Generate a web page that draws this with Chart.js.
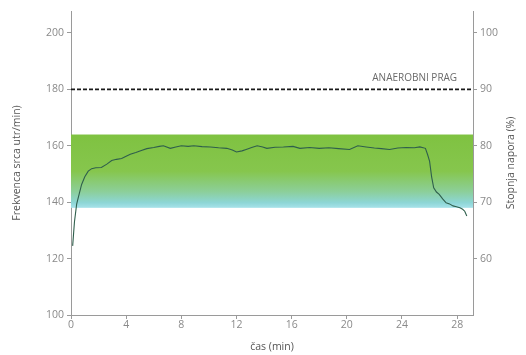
<!DOCTYPE html>
<html>
<head>
<meta charset="utf-8">
<script src="https://cdn.jsdelivr.net/npm/chart.js@4.4.1/dist/chart.umd.min.js"></script>
<style>
  html, body { margin: 0; padding: 0; background: #fff; }
  #wrap { width: 526px; height: 355px; position: relative; }
</style>
</head>
<body>
<div id="wrap"><canvas id="hr"></canvas></div>
<script>
// ---------------------------------------------------------
// DATA
// ---------------------------------------------------------
const timeMin = [0.12, 0.25, 0.41, 0.6, 0.77, 1.0, 1.25, 1.5, 1.8, 2.2, 2.6, 2.95, 3.3, 3.67, 4.0, 4.3, 4.7, 5.1, 5.5, 6.0, 6.4, 6.7, 7.2, 7.6, 8.0, 8.5, 8.9, 9.5, 10.1, 10.7, 11.3, 11.7, 12.0, 12.4, 12.7, 13.1, 13.5, 13.9, 14.2, 14.8, 15.4, 16.1, 16.6, 17.3, 18.0, 18.7, 19.4, 20.2, 20.8, 21.4, 22.0, 22.5, 23.1, 23.7, 24.3, 24.9, 25.3, 25.7, 25.85, 26.0, 26.15, 26.3, 26.5, 26.7, 26.95, 27.2, 27.45, 27.7, 27.95, 28.2, 28.4, 28.55, 28.7];
const heartRate = [124.5, 133, 139.3, 143, 146.3, 149, 151, 151.9, 152.2, 152.3, 153.5, 154.8, 155.2, 155.5, 156.3, 157, 157.6, 158.3, 159, 159.4, 159.8, 160, 159.1, 159.6, 160, 159.8, 160, 159.7, 159.6, 159.3, 159.1, 158.5, 157.8, 158.2, 158.7, 159.4, 160, 159.6, 159.1, 159.5, 159.6, 159.8, 159.1, 159.4, 159.1, 159.3, 159, 158.7, 160, 159.6, 159.2, 159, 158.7, 159.2, 159.4, 159.3, 159.6, 159.1, 157, 154.6, 149, 145.1, 143.6, 142.8, 141.2, 139.8, 139.4, 138.7, 138.4, 138, 137.5, 136.8, 135.1];

const xTicks = [0, 4, 8, 12, 16, 20, 24, 28];
const hrTicks = [100, 120, 140, 160, 180, 200];
const effortTicks = [60, 70, 80, 90, 100];

const zoneLow = 138;        // bpm, bottom of the shaded zone
const zoneHigh = 164;       // bpm, top of the shaded zone
const thresholdBpm = 180;   // anaerobni prag
const thresholdLabel = 'ANAEROBNI PRAG';
const rightTitle = 'Stopnja napora (%)';

const X_MAX = 29.15;
const TEXT = '#8a8a8a';
const AXIS = '#9a9a9a';
const FONT = "'Open Sans', 'DejaVu Sans', sans-serif";

// ---------------------------------------------------------
// PLUGINS
// ---------------------------------------------------------
const zonePlugin = {
    id: 'zone',
    beforeDatasetsDraw(chart) {
        const { ctx, scales: { x, y } } = chart;
        const left = x.getPixelForValue(0);
        const right = x.getPixelForValue(X_MAX);
        const top = y.getPixelForValue(zoneHigh);
        const bottom = y.getPixelForValue(zoneLow);
        const grad = ctx.createLinearGradient(0, top, 0, bottom);
        grad.addColorStop(0, '#7fc241');
        grad.addColorStop(0.5, '#86c64d');
        grad.addColorStop(0.78, '#8ccf9a');
        grad.addColorStop(0.93, '#8dd6d6');
        grad.addColorStop(1, '#a7e2ea');
        ctx.save();
        ctx.fillStyle = grad;
        ctx.fillRect(left, top, right - left, bottom - top);
        ctx.restore();
    },
    afterDatasetsDraw(chart) {
        const { ctx, scales: { x, y, y2 } } = chart;
        ctx.save();
        ctx.font = "10px " + FONT;
        ctx.fillStyle = '#6a6a6a';
        ctx.textAlign = 'right';
        ctx.textBaseline = 'bottom';
        ctx.fillText(thresholdLabel, x.getPixelForValue(28.0), y.getPixelForValue(thresholdBpm) - 6);

        // right axis title, reading bottom-to-top like the left one
        ctx.font = "10.5px " + FONT;
        ctx.fillStyle = '#555';
        ctx.textAlign = 'center';
        ctx.textBaseline = 'middle';
        ctx.translate(511, (y2.top + y2.bottom) / 2);
        ctx.rotate(-Math.PI / 2);
        ctx.fillText(rightTitle, 0, 0);
        ctx.restore();
    }
};

// ---------------------------------------------------------
// CHART
// ---------------------------------------------------------
const tickFont = { family: FONT, size: 10.5 };
const titleFont = { family: FONT, size: 10.5 };
const axisGrid = { display: true, drawOnChartArea: false, drawTicks: true, tickLength: 4, color: AXIS };

new Chart(document.getElementById('hr'), {
    type: 'line',
    data: {
        datasets: [
            {
                data: timeMin.map((t, i) => ({ x: t, y: heartRate[i] })),
                borderColor: '#2f5f4c',
                borderWidth: 1.1,
                pointRadius: 0,
                tension: 0,
                yAxisID: 'y'
            },
            {
                data: [{ x: 0, y: thresholdBpm }, { x: X_MAX, y: thresholdBpm }],
                borderColor: '#1a1a1a',
                borderWidth: 1.7,
                borderDash: [4, 2],
                pointRadius: 0,
                yAxisID: 'y'
            }
        ]
    },
    plugins: [zonePlugin],
    options: {
        responsive: true,
        maintainAspectRatio: false,
        animation: false,
        layout: { padding: { top: 11, right: 0, left: 0, bottom: 0 } },
        plugins: { legend: { display: false }, tooltip: { enabled: false } },
        scales: {
            x: {
                type: 'linear',
                min: 0,
                max: X_MAX,
                afterBuildTicks: s => { s.ticks = xTicks.map(v => ({ value: v })); },
                afterFit: s => { s.height = 40; },
                grid: axisGrid,
                border: { display: true, color: AXIS, width: 1 },
                ticks: { color: TEXT, font: tickFont, padding: 0, maxRotation: 0 },
                title: { display: true, text: 'čas (min)', color: '#555', font: titleFont, padding: { top: 0, bottom: 2 } }
            },
            y: {
                position: 'left',
                min: 100,
                max: 207.8,
                afterBuildTicks: s => { s.ticks = hrTicks.map(v => ({ value: v })); },
                afterFit: s => { s.width = 71; },
                grid: axisGrid,
                border: { display: true, color: AXIS, width: 1 },
                ticks: { color: TEXT, font: tickFont, padding: 3 },
                title: { display: true, text: 'Frekvenca srca utr/min)', color: '#555', font: titleFont, padding: { top: 11, bottom: 0 } }
            },
            y2: {
                position: 'right',
                min: 50,
                max: 103.9,
                afterBuildTicks: s => { s.ticks = effortTicks.map(v => ({ value: v })); },
                afterFit: s => { s.width = 53; },
                grid: axisGrid,
                border: { display: true, color: AXIS, width: 1 },
                ticks: { color: TEXT, font: tickFont, padding: 3 },
                title: { display: false }
            }
        }
    }
});
</script>
</body>
</html>
